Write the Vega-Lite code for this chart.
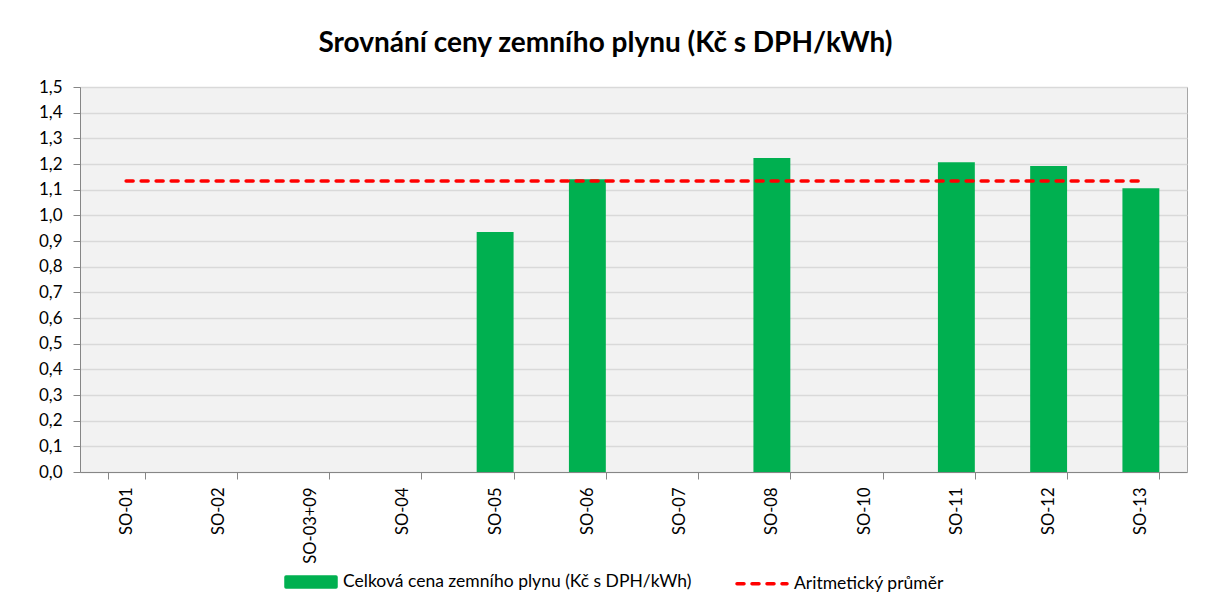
{
  "$schema": "https://vega.github.io/schema/vega-lite/v6.json",
  "width": 1107,
  "height": 385,
  "autosize": {"type": "none"},
  "padding": {"left": 80, "top": 87, "right": 26, "bottom": 136},
  "background": "white",
  "config": {
    "font": "Lato",
    "view": {"fill": "#f2f2f2", "stroke": "#a6a6a6", "strokeWidth": 1}
  },
  "title": {
    "text": "Srovnání ceny zemního plynu (Kč s DPH/kWh)",
    "fontSize": 28,
    "fontWeight": "bold",
    "font": "Lato",
    "color": "#000000",
    "anchor": "middle",
    "frame": "group",
    "offset": 20,
    "dx": -28
  },
  "data": {
    "values": [
      {"objekt": "SO-01", "cena": null, "prumer": 1.134},
      {"objekt": "SO-02", "cena": null, "prumer": 1.134},
      {"objekt": "SO-03+09", "cena": null, "prumer": 1.134},
      {"objekt": "SO-04", "cena": null, "prumer": 1.134},
      {"objekt": "SO-05", "cena": 0.935, "prumer": 1.134},
      {"objekt": "SO-06", "cena": 1.141, "prumer": 1.134},
      {"objekt": "SO-07", "cena": null, "prumer": 1.134},
      {"objekt": "SO-08", "cena": 1.223, "prumer": 1.134},
      {"objekt": "SO-10", "cena": null, "prumer": 1.134},
      {"objekt": "SO-11", "cena": 1.207, "prumer": 1.134},
      {"objekt": "SO-12", "cena": 1.192, "prumer": 1.134},
      {"objekt": "SO-13", "cena": 1.106, "prumer": 1.134}
    ]
  },
  "encoding": {
    "x": {
      "field": "objekt",
      "type": "nominal",
      "sort": null,
      "title": null,
      "scale": {
        "domain": ["SO-01", "SO-02", "SO-03+09", "SO-04", "SO-05", "SO-06", "SO-07", "SO-08", "SO-10", "SO-11", "SO-12", "SO-13"],
        "paddingInner": 0.6,
        "paddingOuter": 0.3
      },
      "axis": {
        "labelAngle": -90,
        "labelFontSize": 16.5,
        "labelColor": "#000000",
        "labelPadding": 8,
        "labelOverlap": false,
        "tickBand": "extent",
        "tickSize": 7,
        "tickColor": "#868686",
        "domainColor": "#868686",
        "grid": false
      }
    }
  },
  "layer": [
    {
      "mark": {"type": "bar"},
      "encoding": {
        "y": {
          "field": "cena",
          "type": "quantitative",
          "title": null,
          "scale": {"domain": [0, 1.5], "nice": false},
          "axis": {
            "values": [0, 0.1, 0.2, 0.3, 0.4, 0.5, 0.6, 0.7, 0.8, 0.9, 1.0, 1.1, 1.2, 1.3, 1.4, 1.5],
            "labelExpr": "replace(format(datum.value, '.1f'), '.', ',')",
            "labelFontSize": 17,
            "labelColor": "#000000",
            "labelPadding": 11,
            "labelOverlap": false,
            "labelFlush": false,
            "tickSize": 7,
            "tickColor": "#868686",
            "domainColor": "#868686",
            "gridColor": "#d9d9d9",
            "gridWidth": 1.5
          }
        },
        "color": {
          "datum": "Celková cena zemního plynu (Kč s DPH/kWh)",
          "type": "nominal",
          "scale": {
            "domain": ["Celková cena zemního plynu (Kč s DPH/kWh)", "Aritmetický průměr"],
            "range": ["#00b050", "#ff0000"]
          },
          "legend": {
            "title": null,
            "orient": "none",
            "direction": "horizontal",
            "legendX": 204,
            "legendY": 468,
            "labelFontSize": 17.5,
            "labelLimit": 0,
            "labelColor": "#000000",
            "labelOffset": 5,
            "symbolSize": 2500,
            "columnPadding": 38,
            "encode": {
              "symbols": {
                "update": {
                  "shape": {"signal": "datum.value === 'Aritmetický průměr' ? 'M-1.0,0H1.0' : 'M-1,-0.2H1V0.2H-1Z'"},
                  "fill": {"signal": "datum.value === 'Aritmetický průměr' ? 'transparent' : '#00b050'"},
                  "stroke": {"signal": "datum.value === 'Aritmetický průměr' ? '#ff0000' : 'transparent'"},
                  "strokeDash": {"signal": "datum.value === 'Aritmetický průměr' ? [7, 8] : [1, 0]"},
                  "strokeCap": {"value": "round"},
                  "strokeWidth": {"value": 3.5},
                  "opacity": {"value": 1},
                  "fillOpacity": {"value": 1},
                  "strokeOpacity": {"value": 1}
                }
              }
            }
          }
        }
      }
    },
    {
      "mark": {"type": "line", "strokeDash": [7, 8], "strokeWidth": 3.5, "strokeCap": "round"},
      "encoding": {
        "y": {
          "field": "prumer",
          "type": "quantitative",
          "title": null,
          "scale": {"domain": [0, 1.5], "nice": false},
          "axis": {
            "values": [0, 0.1, 0.2, 0.3, 0.4, 0.5, 0.6, 0.7, 0.8, 0.9, 1.0, 1.1, 1.2, 1.3, 1.4, 1.5],
            "labelExpr": "replace(format(datum.value, '.1f'), '.', ',')",
            "labelFontSize": 17,
            "labelColor": "#000000",
            "labelPadding": 11,
            "labelOverlap": false,
            "labelFlush": false,
            "tickSize": 7,
            "tickColor": "#868686",
            "domainColor": "#868686",
            "gridColor": "#d9d9d9",
            "gridWidth": 1.5
          }
        },
        "color": {"datum": "Aritmetický průměr", "type": "nominal"}
      }
    }
  ]
}
